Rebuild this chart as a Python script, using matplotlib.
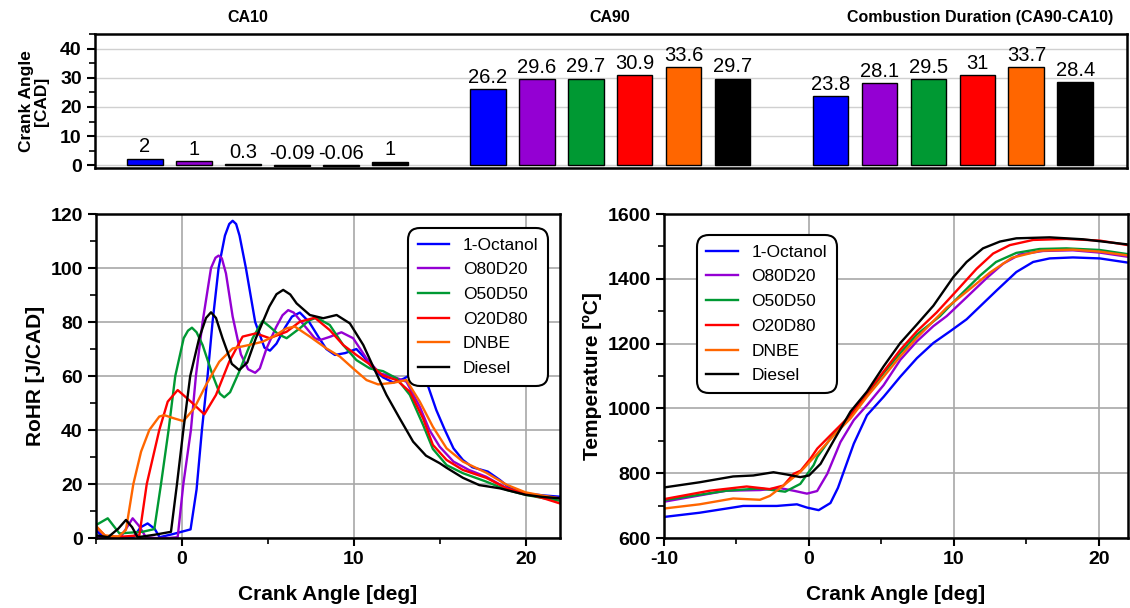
import matplotlib
matplotlib.use("Agg")
import matplotlib.pyplot as plt
import matplotlib.transforms as mtransforms
from matplotlib.ticker import MultipleLocator

plt.rcParams['font.family'] = ['Liberation Sans', 'DejaVu Sans']
plt.rcParams['axes.unicode_minus'] = False

fuels = ["1-Octanol", "O80D20", "O50D50", "O20D80", "DNBE", "Diesel"]
colors = ["#0000FF", "#9400D3", "#009933", "#FF0000", "#FF6600", "#000000"]

# combustion phasing bars [CAD]
ca10 = [2.3, 1.5, 0.3, -0.09, -0.06, 1.3]
ca10_labels = ["2", "1", "0.3", "-0.09", "-0.06", "1"]
ca90 = [26.2, 29.6, 29.7, 30.9, 33.6, 29.7]
duration = [23.8, 28.1, 29.5, 31, 33.7, 28.4]
group_titles = ["CA10", "CA90", "Combustion Duration (CA90-CA10)"]

# rate of heat release [J/CAD] vs crank angle [deg]
rohr_x_oct = [-5, -4.6, -4.0, -3.3, -2.8, -2.4, -2.0, -1.6, -1.3, -0.5, 0.5, 0.85, 1.16, 1.49,
              1.78, 2.13, 2.5, 2.75, 2.95, 3.15, 3.35, 3.72, 4.26, 4.8, 5.12, 5.5, 6.0, 6.4, 6.86,
              7.4, 7.93, 8.4, 8.9, 9.5, 10.15, 10.6, 11.1, 11.7, 12.3, 12.9, 13.6, 14.2, 14.8,
              15.3, 15.8, 16.35, 16.9, 17.8, 18.5, 19.1, 20.0, 21.0, 22.0]
rohr_oct = [2.8, 0.5, 0, 0, 0.5, 4, 5.4, 3.5, 0.3, 1.5, 3.2, 18, 40, 60, 80, 100, 112, 116.3,
            117.5, 116.3, 112, 100, 80, 70.5, 69.4, 72, 78, 82, 83.5, 80, 74.6, 70, 67.8, 68.5,
            70, 67, 62.8, 59.5, 57.6, 59, 61.6, 58.5, 47.4, 40, 33.2, 28.9, 26.2, 24.6, 21.5,
            18.4, 16.5, 15.8, 15.3]

rohr_x_o80 = [-5, -4.5, -4.0, -3.55, -3.2, -2.87, -2.5, -2.1, -1.5, -0.8, -0.25, 0.08, 0.52, 0.81,
              1.2, 1.69, 1.95, 2.13, 2.32, 2.56, 2.95, 3.43, 3.85, 4.26, 4.53, 4.92, 5.47, 5.85,
              6.18, 6.5, 6.86, 7.73, 8.02, 8.6, 9.28, 9.96, 10.74, 11.5, 12.3, 13.06, 13.84, 14.4,
              15.0, 15.8, 16.7, 17.7, 18.9, 20.0, 21.0, 22.0]
rohr_o80 = [0.5, 0.3, 0.3, 0.5, 4, 7.3, 4.5, 0.3, 0, 0, 0.3, 20, 40, 60, 80, 100, 103.8, 104.6,
            103.6, 98, 82, 68, 62.5, 61.2, 62.8, 70.2, 78, 82.5, 84.4, 83.5, 80.7, 74, 73.3, 74.5,
            76.2, 74, 66.5, 61, 59.7, 57.9, 48.6, 40, 33.8, 28.3, 25.2, 22.7, 18.4, 16.3, 15.4, 14.7]

rohr_x_o50 = [-5, -4.32, -3.64, -3.0, -2.3, -1.61, -1.22, -0.78, -0.39, 0.1, 0.35, 0.58, 0.85, 1.2,
              1.78, 2.2, 2.46, 2.8, 3.33, 4.11, 4.69, 5.1, 5.6, 6.09, 6.86, 7.4, 7.83, 8.6, 9.38,
              10.15, 10.93, 11.7, 12.5, 13.26, 14.03, 14.6, 15.4, 16.35, 17.7, 18.9, 20.0, 21.0,
              22.0]
rohr_o50 = [4.8, 7.3, 1.7, 2, 2.3, 3.3, 20, 40, 60, 74, 76.8, 77.9, 76.2, 71.5, 60.4, 53.5, 52.1,
            54, 61.6, 74, 80.4, 78.3, 75.5, 74, 77.7, 80.6, 81.6, 78.9, 71.5, 65.9, 62.8, 61.8,
            59.1, 53, 41.9, 33, 27, 24, 20.9, 17.8, 16, 14.8, 13.8]

rohr_x_o20 = [-5, -4.42, -3.5, -2.48, -2.05, -1.32, -0.83, -0.25, 0.52, 1.3, 1.98, 2.75, 3.53, 4.3,
              5.1, 6.09, 6.86, 7.73, 8.6, 9.38, 10.15, 10.93, 11.7, 12.5, 13.26, 14.03, 14.6, 15.4,
              16.35, 17.7, 18.9, 20.0, 21.0, 22.0]
rohr_o20 = [4.2, 0.5, 0.5, 1, 20, 40, 50.5, 54.8, 50.5, 45.8, 53, 65.3, 74.6, 75.8, 74, 76.4, 80.1,
            81.6, 77, 71.5, 67.8, 64.3, 60.1, 58.5, 54.2, 44.3, 34.5, 28.9, 25.2, 22.3, 18.4, 16.5,
            14.8, 12.8]

rohr_x_dnbe = [-5, -4.5, -3.7, -3.26, -2.83, -2.38, -1.9, -1.32, -1.03, -0.45, 0.08, 0.71, 1.4,
               2.17, 2.95, 3.91, 4.69, 5.31, 6.09, 6.57, 7.44, 8.41, 9.19, 9.96, 10.74, 11.41, 12.3,
               13.06, 13.84, 14.6, 15.4, 16.35, 17.7, 18.9, 20.0, 21.0, 22.0]
rohr_dnbe = [4.5, 1, 0.5, 3, 20, 32, 40, 45, 45.5, 44.3, 43.3, 48, 56.7, 65.3, 70.2, 71.5, 72.7,
             74.6, 77.7, 78.3, 74.6, 70.2, 67.2, 62.8, 58.5, 56.9, 57.5, 58.5, 50.5, 41.2, 33.2,
             28.3, 24.2, 19.7, 16.9, 15.7, 14.7]

rohr_x_dsl = [-5, -4.3, -3.7, -3.26, -2.9, -2.58, -1.6, -0.64, -0.29, 0.08, 0.48, 1.0, 1.4, 1.69,
              1.98, 2.36, 2.9, 3.33, 3.8, 4.3, 5.08, 5.5, 5.89, 6.3, 6.67, 7.44, 8.22, 9.0, 9.77,
              10.55, 11.22, 11.9, 12.67, 13.45, 14.2, 15.0, 15.4, 16.35, 17.3, 18.5, 20.0, 21.0,
              22.0]
rohr_dsl = [1, 0.3, 3.5, 6.7, 4, 0.3, 1.2, 2.3, 20, 40, 60, 74, 81.5, 83.6, 81.5, 74, 64.5, 62.2,
            65, 74, 85.7, 90.3, 91.9, 90.2, 86.9, 82.6, 81.4, 82.6, 79.5, 71.5, 62.2, 53, 44.3,
            35.7, 30.5, 27.7, 26, 22.3, 19.6, 18.4, 16, 15.2, 14.7]

# in-cylinder temperature [ºC] vs crank angle [deg]
temp_x_oct = [-10, -7.55, -4.54, -2.22, -0.83, -0.14, 0.67, 1.48, 2.0, 2.4, 3.09, 4.0, 5.15, 6.3,
              7.44, 8.58, 9.73, 10.87, 12.94, 14.3, 15.46, 16.6, 18.2, 20.05, 22]
temp_oct = [665, 678, 699, 699, 704, 694, 686, 708, 755, 805, 891, 979, 1036, 1098, 1155, 1202,
            1238, 1275, 1364, 1421, 1452, 1463, 1466, 1463, 1450]

temp_x_o80 = [-10, -5.7, -3.38, -1.99, -1.06, -0.14, 0.56, 1.26, 2.17, 3.09, 4.0, 5.15, 6.3, 7.44,
              8.58, 9.5, 10.87, 12.25, 13.4, 14.54, 16.15, 18.2, 20.05, 22]
temp_o80 = [712, 746, 748, 754, 746, 737, 745, 798, 896, 964, 1010, 1072, 1150, 1207, 1254, 1285,
            1343, 1402, 1447, 1475, 1486, 1488, 1481, 1468]

temp_x_o50 = [-10, -5.7, -3.38, -1.64, -0.6, 0.32, 0.57, 1.72, 2.86, 4.0, 5.15, 6.3, 7.44, 9.04,
              10.4, 11.8, 12.9, 14.3, 15.9, 17.75, 20.05, 22]
temp_o50 = [717, 746, 753, 743, 767, 825, 850, 922, 979, 1042, 1109, 1171, 1228, 1285, 1348, 1410,
            1452, 1480, 1492, 1494, 1489, 1476]

temp_x_o20 = [-10, -6.85, -4.3, -2.7, -1.76, -1.06, -0.57, 0.1, 0.57, 1.72, 2.86, 4.0, 5.15, 6.3,
              7.44, 8.8, 10.2, 11.56, 12.7, 13.85, 15.46, 17.75, 20.05, 22]
temp_o20 = [720, 746, 759, 751, 762, 798, 808, 845, 876, 928, 979, 1047, 1114, 1181, 1238, 1296,
            1364, 1431, 1478, 1504, 1520, 1523, 1518, 1504]

temp_x_dnbe = [-10, -7.55, -5.23, -3.38, -2.7, -1.76, -0.57, 0.57, 1.72, 2.86, 4.0, 5.15, 6.3,
               7.44, 9.5, 11.0, 12.5, 14.0, 16.0, 18.2, 20.05, 22]
temp_dnbe = [691, 704, 722, 718, 730, 762, 805, 860, 917, 969, 1036, 1098, 1161, 1218, 1311, 1365,
             1420, 1465, 1487, 1490, 1484, 1472]

temp_x_dsl = [-10, -7.55, -5.23, -3.84, -2.45, -1.53, -0.6, 0, 0.8, 1.72, 2.86, 4.0, 5.15, 6.3,
              7.44, 8.58, 9.95, 10.87, 12.0, 13.17, 14.3, 16.6, 18.9, 22]
temp_dsl = [756, 772, 790, 793, 803, 796, 788, 793, 829, 902, 990, 1052, 1130, 1202, 1259, 1317,
            1405, 1452, 1494, 1515, 1525, 1528, 1522, 1506]

rohr_x = [rohr_x_oct, rohr_x_o80, rohr_x_o50, rohr_x_o20, rohr_x_dnbe, rohr_x_dsl]
rohr_y = [rohr_oct, rohr_o80, rohr_o50, rohr_o20, rohr_dnbe, rohr_dsl]
temp_x = [temp_x_oct, temp_x_o80, temp_x_o50, temp_x_o20, temp_x_dnbe, temp_x_dsl]
temp_y = [temp_oct, temp_o80, temp_o50, temp_o20, temp_dnbe, temp_dsl]

fig = plt.figure(figsize=(11.3, 6.08), dpi=100)

GRID = "#a8a8a8"


def bold_ticks(ax):
    for lab in ax.get_xticklabels() + ax.get_yticklabels():
        lab.set_fontweight("bold")


def style_axes(ax):
    for s in ax.spines.values():
        s.set_linewidth(1.8)
    ax.tick_params(which="major", direction="out", length=6, width=1.5, labelsize=14,
                   top=False, right=False)
    ax.tick_params(which="minor", direction="out", length=4, width=1.2, top=False, right=False)
    ax.grid(True, which="major", color=GRID, lw=1.2)
    ax.set_axisbelow(True)


def add_legend(ax, loc, anchor):
    leg = ax.legend(loc=loc, bbox_to_anchor=anchor, fontsize=12.5, handlelength=1.8,
                    labelspacing=0.55, borderpad=0.55, borderaxespad=0, fancybox=True,
                    framealpha=1, edgecolor="black")
    frame = leg.get_frame()
    frame.set_linewidth(1.5)
    frame.set_boxstyle("round", pad=0, rounding_size=0.7)
    return leg


# ---- top: bar chart ----
axb = fig.add_axes([0.0841, 0.7237, 0.913, 0.2204])
groups = [ca10, ca90, duration]
group_start = [0, 7, 14]
for g, vals in enumerate(groups):
    xs = [group_start[g] + i for i in range(len(vals))]
    axb.bar(xs, vals, width=0.73, color=colors, edgecolor="black", linewidth=1.0, zorder=3)
    labels = ca10_labels if g == 0 else ["%g" % v for v in vals]
    for x, v, lab in zip(xs, vals, labels):
        axb.text(x, max(v, 0) + 0.8, lab, ha="center", va="bottom", fontsize=14.5, zorder=4)

title_x = [2.1, 9.5, 17.06]
trans = mtransforms.blended_transform_factory(axb.transData, fig.transFigure)
for tx, t in zip(title_x, group_titles):
    axb.text(tx, 0.972, t, transform=trans, ha="center", va="center", fontsize=11.5,
             fontweight="bold")

axb.set_xlim(-1.02, 20.05)
axb.set_ylim(-0.9, 45)
axb.set_xticks([])
axb.set_yticks([0, 10, 20, 30, 40])
axb.yaxis.set_minor_locator(MultipleLocator(5))
for s in axb.spines.values():
    s.set_linewidth(1.8)
axb.tick_params(axis="y", which="major", direction="out", length=6, width=1.5, labelsize=14)
axb.tick_params(axis="y", which="minor", direction="out", length=4, width=1.2)
axb.grid(True, axis="y", color="#d0d0d0", lw=1.0)
axb.set_axisbelow(True)
axb.set_ylabel("Crank Angle\n[CAD]", fontsize=12.5, fontweight="bold", labelpad=8,
               linespacing=1.0)
bold_ticks(axb)

# ---- bottom left: RoHR ----
ax1 = fig.add_axes([0.085, 0.1151, 0.4106, 0.5329])
for xs, ys, c, name in zip(rohr_x, rohr_y, colors, fuels):
    ax1.plot(xs, ys, color=c, lw=1.7, label=name, solid_joinstyle="round")
ax1.set_xlim(-5, 22)
ax1.set_ylim(0, 120)
ax1.set_xticks([0, 10, 20])
ax1.set_yticks(range(0, 121, 20))
ax1.xaxis.set_minor_locator(MultipleLocator(5))
ax1.yaxis.set_minor_locator(MultipleLocator(10))
style_axes(ax1)
bold_ticks(ax1)
ax1.set_xlabel("Crank Angle [deg]", fontsize=15, fontweight="bold", labelpad=12)
ax1.set_ylabel("RoHR [J/CAD]", fontsize=15, fontweight="bold", labelpad=4)
add_legend(ax1, "upper right", (0.974, 0.957))

# ---- bottom right: temperature ----
ax2 = fig.add_axes([0.5876, 0.1151, 0.4106, 0.5329])
for xs, ys, c, name in zip(temp_x, temp_y, colors, fuels):
    ax2.plot(xs, ys, color=c, lw=1.7, label=name, solid_joinstyle="round")
ax2.set_xlim(-10, 22)
ax2.set_ylim(600, 1600)
ax2.set_xticks([-10, 0, 10, 20])
ax2.set_yticks(range(600, 1601, 200))
ax2.xaxis.set_minor_locator(MultipleLocator(5))
ax2.yaxis.set_minor_locator(MultipleLocator(100))
style_axes(ax2)
bold_ticks(ax2)
ax2.set_xlabel("Crank Angle [deg]", fontsize=15, fontweight="bold", labelpad=12)
ax2.set_ylabel("Temperature [ºC]", fontsize=15, fontweight="bold", labelpad=4)
add_legend(ax2, "upper left", (0.071, 0.935))

fig.savefig("out.png", dpi=100)
